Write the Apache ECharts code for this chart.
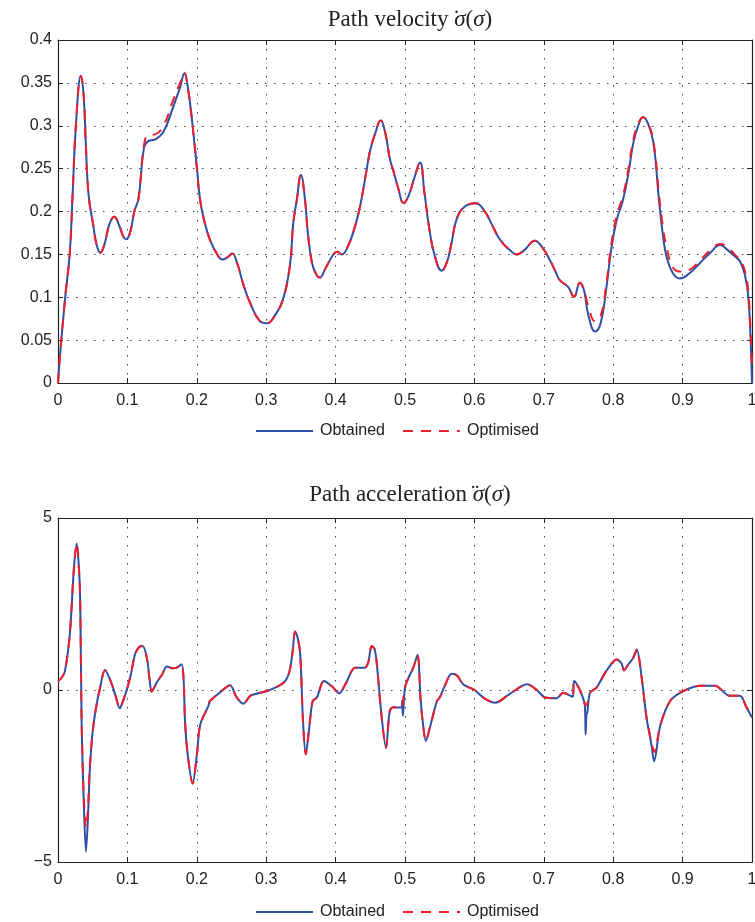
<!DOCTYPE html>
<html>
<head>
<meta charset="utf-8">
<script src="https://cdn.jsdelivr.net/npm/echarts@6/dist/echarts.min.js"></script>
<style>
  html, body { margin: 0; padding: 0; background: #fff; }
  #chart { width: 755px; height: 922px; }
</style>
</head>
<body>
<div id="chart"></div>
<script>
// path velocity, sigma-dot(sigma)
const velX = [0, 0.002, 0.01, 0.017, 0.021, 0.026, 0.033, 0.037, 0.040, 0.044, 0.051, 0.056, 0.061, 0.067, 0.074, 0.081, 0.088, 0.094, 0.098, 0.104, 0.11, 0.116, 0.124, 0.13, 0.14, 0.152, 0.166, 0.176, 0.182, 0.187, 0.193, 0.2, 0.205, 0.212, 0.219, 0.228, 0.237, 0.245, 0.251, 0.258, 0.267, 0.277, 0.29, 0.301, 0.312, 0.324, 0.334, 0.339, 0.344, 0.35, 0.356, 0.36, 0.366, 0.372, 0.377, 0.385, 0.396, 0.4025, 0.409, 0.418, 0.427, 0.435, 0.445, 0.45, 0.457, 0.465, 0.472, 0.478, 0.483, 0.49, 0.498, 0.505, 0.513, 0.5216, 0.528, 0.535, 0.543, 0.553, 0.56, 0.567, 0.574, 0.585, 0.602, 0.615, 0.625, 0.637, 0.651, 0.661, 0.672, 0.687, 0.698, 0.709, 0.718, 0.723, 0.735, 0.7435, 0.752, 0.758, 0.764, 0.774, 0.782, 0.79, 0.797, 0.805, 0.814, 0.822, 0.829, 0.836, 0.843, 0.85, 0.858, 0.866, 0.872, 0.877, 0.886, 0.896, 0.91, 0.925, 0.94, 0.954, 0.965, 0.975, 0.983, 0.99, 0.9947, 0.998, 1.0];
const velObtained = [0, 0.023, 0.097, 0.152, 0.219, 0.303, 0.358, 0.335, 0.28, 0.22, 0.183, 0.16, 0.152, 0.162, 0.185, 0.194, 0.184, 0.171, 0.1675, 0.176, 0.2, 0.215, 0.275, 0.282, 0.284, 0.293, 0.322, 0.345, 0.361, 0.345, 0.307, 0.252, 0.212, 0.185, 0.167, 0.152, 0.144, 0.147, 0.151, 0.14, 0.115, 0.093, 0.073, 0.0696, 0.078, 0.097, 0.136, 0.186, 0.213, 0.2425, 0.213, 0.175, 0.14, 0.127, 0.123, 0.133, 0.149, 0.153, 0.15, 0.16, 0.18, 0.205, 0.25, 0.272, 0.291, 0.306, 0.29, 0.262, 0.248, 0.228, 0.21, 0.218, 0.238, 0.257, 0.222, 0.18, 0.148, 0.131, 0.14, 0.163, 0.19, 0.205, 0.2095, 0.2, 0.185, 0.167, 0.155, 0.15, 0.155, 0.166, 0.158, 0.143, 0.128, 0.12, 0.112, 0.1007, 0.117, 0.108, 0.08, 0.06, 0.07, 0.11, 0.155, 0.19, 0.213, 0.245, 0.28, 0.3, 0.31, 0.303, 0.28, 0.213, 0.17, 0.147, 0.128, 0.122, 0.128, 0.14, 0.152, 0.161, 0.155, 0.148, 0.1415, 0.125, 0.1007, 0.05, 0];
const velOptimised = [0, 0.023, 0.097, 0.152, 0.219, 0.303, 0.358, 0.335, 0.28, 0.22, 0.183, 0.16, 0.152, 0.162, 0.185, 0.194, 0.184, 0.171, 0.1675, 0.176, 0.2, 0.215, 0.278, 0.289, 0.29, 0.3, 0.33, 0.35, 0.362, 0.345, 0.307, 0.252, 0.212, 0.185, 0.167, 0.152, 0.144, 0.147, 0.151, 0.14, 0.115, 0.093, 0.073, 0.0696, 0.078, 0.097, 0.136, 0.186, 0.213, 0.2425, 0.213, 0.175, 0.14, 0.127, 0.123, 0.133, 0.149, 0.153, 0.15, 0.16, 0.18, 0.205, 0.25, 0.272, 0.291, 0.306, 0.29, 0.262, 0.248, 0.228, 0.21, 0.218, 0.238, 0.257, 0.222, 0.18, 0.148, 0.131, 0.14, 0.163, 0.19, 0.205, 0.2095, 0.2, 0.185, 0.167, 0.155, 0.15, 0.155, 0.166, 0.158, 0.143, 0.128, 0.12, 0.112, 0.1007, 0.117, 0.108, 0.09, 0.072, 0.078, 0.115, 0.16, 0.195, 0.218, 0.25, 0.284, 0.302, 0.31, 0.303, 0.282, 0.22, 0.18, 0.158, 0.135, 0.13, 0.132, 0.143, 0.155, 0.162, 0.158, 0.15, 0.143, 0.13, 0.105, 0.06, 0.02];

// path acceleration, sigma-ddot(sigma)
const accX = [0, 0.005, 0.01, 0.017, 0.023, 0.027, 0.03, 0.032, 0.034, 0.037, 0.0403, 0.043, 0.046, 0.05, 0.0557, 0.06, 0.0677, 0.075, 0.082, 0.089, 0.094, 0.099, 0.105, 0.111, 0.117, 0.122, 0.128, 0.132, 0.135, 0.142, 0.15, 0.157, 0.166, 0.172, 0.178, 0.181, 0.183, 0.187, 0.194, 0.2, 0.205, 0.2166, 0.219, 0.233, 0.248, 0.257, 0.267, 0.277, 0.286, 0.305, 0.325, 0.333, 0.338, 0.3415, 0.345, 0.349, 0.353, 0.357, 0.362, 0.367, 0.373, 0.383, 0.395, 0.405, 0.415, 0.428, 0.442, 0.447, 0.452, 0.456, 0.459, 0.466, 0.4726, 0.478, 0.483, 0.488, 0.495, 0.496, 0.497, 0.5, 0.506, 0.512, 0.518, 0.5226, 0.526, 0.53, 0.537, 0.546, 0.55, 0.558, 0.567, 0.575, 0.584, 0.6, 0.615, 0.63, 0.651, 0.676, 0.69, 0.702, 0.7186, 0.728, 0.7416, 0.7435, 0.748, 0.7546, 0.759, 0.7603, 0.7615, 0.7627, 0.7666, 0.776, 0.79, 0.805, 0.812, 0.8156, 0.822, 0.829, 0.834, 0.841, 0.848, 0.855, 0.859, 0.867, 0.875, 0.882, 0.8866, 0.901, 0.925, 0.9466, 0.968, 0.9827, 0.992, 1.0];
const accObtained = [0.26, 0.35, 0.55, 1.62, 3.56, 4.26, 3.6, 2.59, -0.9, -3.2, -4.7, -3.8, -2.26, -1.2, -0.41, 0, 0.58, 0.3, -0.1, -0.53, -0.3, 0, 0.45, 1.04, 1.25, 1.28, 0.94, 0.3, -0.05, 0.21, 0.45, 0.68, 0.63, 0.66, 0.75, 0.3, -0.9, -1.9, -2.72, -1.9, -1.0, -0.47, -0.32, -0.08, 0.14, -0.2, -0.4, -0.17, -0.11, 0, 0.21, 0.5, 1.1, 1.7, 1.55, 1.05, -0.9, -1.87, -1.1, -0.32, -0.22, 0.26, 0.1, -0.1, 0.2, 0.65, 0.65, 0.8, 1.28, 1.2, 0.84, -0.71, -1.68, -0.61, -0.5, -0.51, -0.51, -0.3, -0.75, 0.07, 0.4, 0.65, 1.02, -0.32, -1.0, -1.48, -1.0, -0.32, -0.22, 0.15, 0.47, 0.42, 0.16, 0, -0.25, -0.37, -0.11, 0.165, 0, -0.22, -0.24, -0.08, -0.2, 0.26, 0.15, -0.13, -0.42, -1.29, -0.7, -0.66, -0.08, 0.07, 0.55, 0.89, 0.77, 0.57, 0.75, 0.94, 1.18, 0.36, -0.8, -1.58, -2.07, -1.1, -0.6, -0.32, -0.22, -0.03, 0.12, 0.12, -0.17, -0.17, -0.5, -0.8];
const accOptimised = [0.26, 0.35, 0.55, 1.62, 3.56, 4.26, 3.6, 2.59, -0.9, -3.0, -4.0, -3.5, -2.2, -1.2, -0.41, 0, 0.58, 0.3, -0.1, -0.53, -0.3, 0, 0.45, 1.04, 1.25, 1.28, 0.94, 0.3, -0.05, 0.21, 0.45, 0.68, 0.63, 0.66, 0.75, 0.3, -0.9, -1.9, -2.72, -1.9, -1.0, -0.47, -0.32, -0.08, 0.14, -0.2, -0.4, -0.17, -0.11, 0, 0.21, 0.5, 1.1, 1.7, 1.55, 1.05, -0.9, -1.87, -1.1, -0.32, -0.22, 0.26, 0.1, -0.1, 0.2, 0.65, 0.65, 0.8, 1.28, 1.2, 0.84, -0.71, -1.68, -0.61, -0.5, -0.51, -0.51, -0.5, -0.5, 0.07, 0.4, 0.65, 1.02, -0.32, -1.0, -1.48, -1.0, -0.32, -0.22, 0.15, 0.47, 0.42, 0.16, 0, -0.25, -0.37, -0.11, 0.165, 0, -0.22, -0.24, -0.08, -0.2, 0.26, 0.15, -0.13, -0.4, -0.45, -0.42, -0.4, -0.08, 0.07, 0.55, 0.89, 0.77, 0.57, 0.75, 0.94, 1.18, 0.36, -0.8, -1.5, -1.8, -1.1, -0.6, -0.32, -0.22, -0.03, 0.12, 0.12, -0.17, -0.17, -0.5, -0.8];

const blue = '#2e4fa6';
const red = '#ee1f2c';
const ink = '#222';
const sans = 'Liberation Sans, Arial, sans-serif';
const serif = 'Liberation Serif, Times New Roman, serif';

function zip(xs, ys) {
  return xs.map(function (x, i) { return [x, ys[i]]; });
}

function bottomX(gi) {
  return {
    type: 'value', gridIndex: gi, min: 0, max: 1, interval: 0.1,
    axisLine: { onZero: false, lineStyle: { color: ink, width: 1.2 } },
    axisTick: { inside: true, length: 5, lineStyle: { color: ink } },
    axisLabel: { color: ink, fontSize: 16, fontFamily: sans, margin: 10 },
    splitLine: { show: true, lineStyle: { color: '#444', width: 1, type: [1.5, 7.5] } }
  };
}
function topX(gi) {
  return {
    type: 'value', gridIndex: gi, position: 'top', min: 0, max: 1, interval: 0.1,
    axisLine: { onZero: false, lineStyle: { color: ink, width: 1.2 } },
    axisTick: { inside: true, length: 5, lineStyle: { color: ink } },
    axisLabel: { show: false },
    splitLine: { show: false }
  };
}
function leftY(gi, min, max, interval) {
  return {
    type: 'value', gridIndex: gi, min: min, max: max, interval: interval,
    axisLine: { show: true, onZero: false, lineStyle: { color: ink, width: 1.2 } },
    axisTick: { show: true, inside: true, length: 5, lineStyle: { color: ink } },
    axisLabel: {
      color: ink, fontSize: 16, fontFamily: sans, margin: 6,
      formatter: function (v) { return String(v).replace('-', '\u2212'); }
    },
    splitLine: { show: true, lineStyle: { color: '#444', width: 1, type: [1.5, 7.5] } }
  };
}
function rightY(gi, min, max, interval) {
  return {
    type: 'value', gridIndex: gi, position: 'right', min: min, max: max, interval: interval,
    axisLine: { show: true, onZero: false, lineStyle: { color: ink, width: 1.2 } },
    axisTick: { show: true, inside: true, length: 5, lineStyle: { color: ink } },
    axisLabel: { show: false },
    splitLine: { show: false }
  };
}
// accent drawn as a zero-width token laid over the sigma
function titleOf(name, accent, top) {
  return {
    text: '{a|' + name + ' }{d|\u200a' + accent + '}{i|\u03c3}{a|(}{i|\u03c3}{a|)}',
    left: 405, top: top, textAlign: 'center',
    textStyle: {
      fontWeight: 'normal',
      rich: {
        a: { fontFamily: serif, fontSize: 23, fontWeight: 'normal', color: ink },
        i: { fontFamily: serif, fontSize: 23, fontWeight: 'normal', fontStyle: 'italic', color: ink },
        d: { fontFamily: serif, fontSize: 23, fontWeight: 'normal', fontStyle: 'italic', color: ink, width: 0, align: 'left' }
      }
    }
  };
}
function legendOf(top) {
  return {
    data: ['Obtained', 'Optimised'], left: 250, top: top,
    itemWidth: 57, itemHeight: 12, itemGap: 17,
    itemStyle: { opacity: 0 },
    textStyle: { color: ink, fontSize: 16, fontFamily: sans, padding: [0, 0, 0, 2] }
  };
}
function line(name, xi, yi, data, dashed, smooth) {
  return {
    name: name, type: 'line', xAxisIndex: xi, yAxisIndex: yi,
    data: data, symbol: 'none', showSymbol: false,
    smooth: smooth,
    lineStyle: { color: dashed ? red : blue, width: 2, type: dashed ? [10, 8] : 'solid' },
    itemStyle: { color: dashed ? red : blue },
    z: dashed ? 3 : 2
  };
}

var chart = echarts.init(document.getElementById('chart'));
var option = {
  backgroundColor: '#fff',
  animation: false,
  title: [titleOf('Path velocity', '\u02d9', 3), titleOf('Path acceleration', '\u00a8', 478)],
  legend: [legendOf(418), legendOf(899)],
  grid: [
    { left: 58, right: 3, top: 40, height: 343, outerBoundsMode: 'none' },
    { left: 58, right: 3, top: 518, height: 344, outerBoundsMode: 'none' }
  ],
  xAxis: [bottomX(0), topX(0), bottomX(1), topX(1)],
  yAxis: [leftY(0, 0, 0.4, 0.05), rightY(0, 0, 0.4, 0.05), leftY(1, -5, 5, 5), rightY(1, -5, 5, 5)],
  series: [
    line('Obtained', 0, 0, zip(velX, velObtained), false, 0.45),
    line('Optimised', 0, 0, zip(velX, velOptimised), true, 0.45),
    line('Obtained', 2, 2, zip(accX, accObtained), false, 0.3),
    line('Optimised', 2, 2, zip(accX, accOptimised), true, 0.3)
  ]
};
option && chart.setOption(option);
</script>
</body>
</html>
